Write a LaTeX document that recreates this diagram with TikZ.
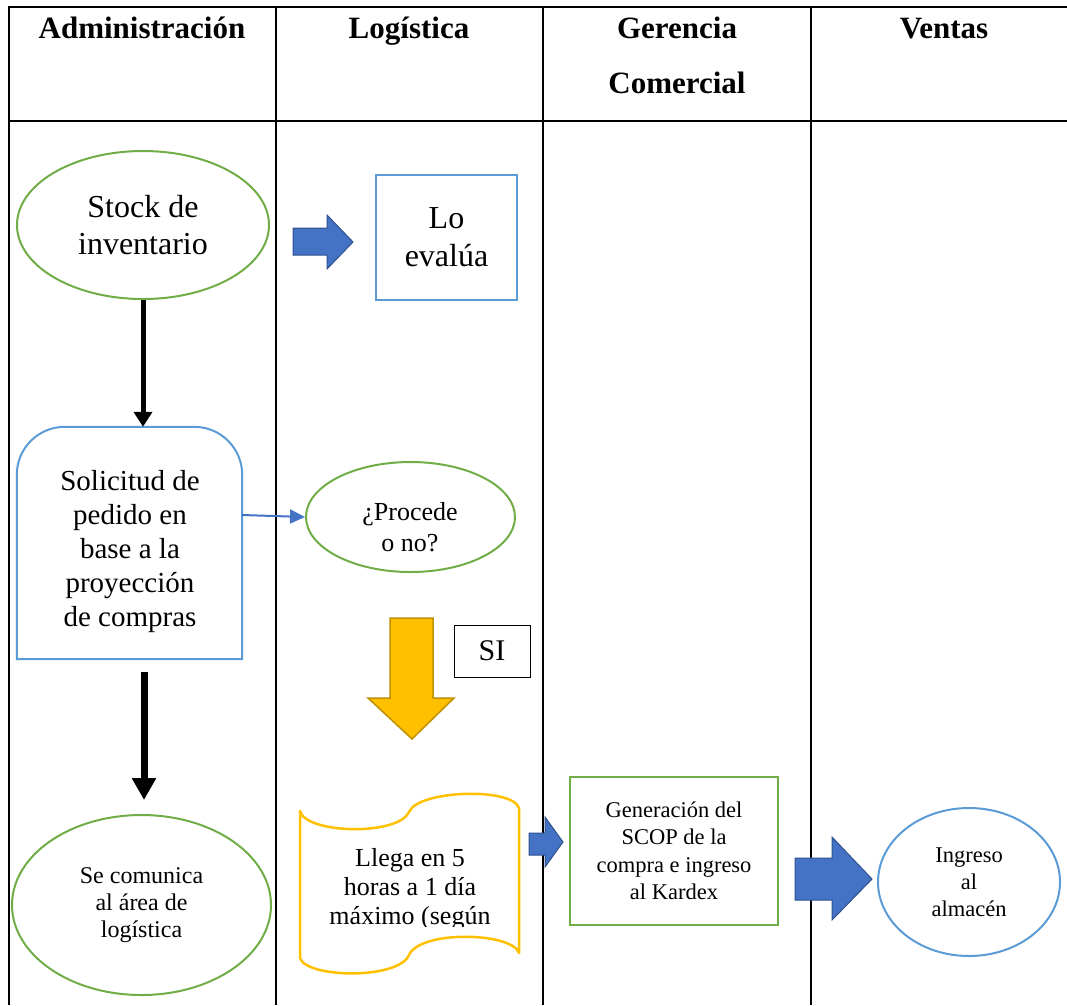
\documentclass[tikz,border=0pt]{standalone}
\usepackage{fontspec}
\setmainfont{Liberation Serif}
\usetikzlibrary{shapes.geometric,arrows.meta}
\definecolor{greenc}{HTML}{70AD47}
\definecolor{bluec}{HTML}{5B9BD5}
\definecolor{blockfill}{HTML}{4472C4}
\definecolor{blockdraw}{HTML}{2F528F}
\definecolor{yellowfill}{HTML}{FFC000}
\definecolor{yellowdraw}{HTML}{BF9000}
\begin{document}
\begin{tikzpicture}[x=1pt,y=-1pt,
  lane/.style={line width=2pt,black},
  hdr/.style={font=\fontsize{31}{37}\selectfont\bfseries, inner sep=0pt, anchor=base},
  gell/.style={ellipse, draw=greenc, line width=2pt, inner sep=0pt, align=center},
  bell/.style={ellipse, draw=bluec, line width=2pt, inner sep=0pt, align=center},
  bbox/.style={rectangle, draw=bluec, line width=2pt, inner sep=0pt, align=center},
  gbox/.style={rectangle, draw=greenc, line width=2pt, inner sep=0pt, align=center},
  txt/.style={inner sep=0pt, align=center},
  blockarrow/.style={fill=blockfill, draw=blockdraw, line width=1pt, line join=miter},
  yarrow/.style={fill=yellowfill, draw=yellowdraw, line width=1.5pt, line join=miter},
  blk/.style={black, line width=#1},
]
\useasboundingbox (0,0) rectangle (1067,1005);

% table
\draw[lane] (8,7) -- (1067,7);
\draw[lane] (8,121) -- (1067,121);
\draw[lane] (9,6) -- (9,1005);
\draw[lane] (276,6) -- (276,1005);
\draw[lane] (543,6) -- (543,1005);
\draw[lane] (811,6) -- (811,1005);

% headers
\node[hdr] (h1) at (142,38) {Administración};
\node[hdr] (h2) at (409,38) {Logística};
\node[hdr] (h3a) at (677,38) {Gerencia};
\node[hdr] (h3b) at (677,93) {Comercial};
\node[hdr] (h4) at (944,38) {Ventas};

% Administración column
\node[gell, minimum width=252pt, minimum height=148pt,
      font=\fontsize{32}{37}\selectfont] (stock) at (143,225) {Stock de\\inventario};

\node[minimum width=225pt, minimum height=232pt, inner sep=0pt] (sol) at (129.5,543) {};
\draw[draw=bluec, line width=2pt] (sol.south west) [rounded corners=48pt] -- (sol.north west) -- (sol.north east) [sharp corners] -- (sol.south east) -- cycle;
\node[txt, font=\fontsize{29}{34}\selectfont] (soltxt) at (130,552) {Solicitud de\\pedido en\\base a la\\proyección\\de compras};

\node[gell, minimum width=259pt, minimum height=180pt,
      font=\fontsize{24}{27}\selectfont] (com) at (141.5,905) {Se comunica\\al área de\\logística};

\draw[blk=5pt, -{Triangle[width=18pt,length=15pt]}] (stock.south) -- (stock.south |- sol.north);
\coordinate (a2s) at (144,672);
\coordinate (a2e) at (144,800);
\draw[blk=7pt, -{Triangle[width=23pt,length=22pt]}] (a2s) -- (a2e);

% Logística column
\draw[blockarrow] (293,228) -- (327,228) -- (327,215) -- (353,242) -- (327,269) -- (327,255) -- (293,255) -- cycle;
\node[bbox, minimum width=141pt, minimum height=125pt,
      font=\fontsize{32}{38}\selectfont] (eval) at (446.5,237.5) {Lo\\evalúa};

\node[gell, minimum width=209pt, minimum height=110pt] (proc) at (410.5,517) {};
\node[txt, font=\fontsize{26}{31}\selectfont] (proctxt) at (410,527) {¿Procede\\o no?};
\draw[draw=blockfill, line width=2pt, -{Triangle[width=14pt,length=15pt]}] ([yshift=28pt]sol.east) -- (proc.west);

\draw[yarrow] (390,618) -- (433,618) -- (433,698) -- (454,698) -- (412,739) -- (368,698) -- (390,698) -- cycle;
\node[rectangle, draw=black, line width=1pt, minimum width=76pt, minimum height=52pt,
      inner sep=0pt, font=\fontsize{30}{34}\selectfont] (si) at (492,651) {SI};

\coordinate (tape) at (410,884);
\draw[draw=yellowfill, line width=2.5pt, line join=round]
  (300,811) .. controls (306,834) and (398,836) .. (409,812)
  .. controls (418,790) and (512,787) .. (519,808)
  -- (519,953)
  .. controls (512,932) and (420,930) .. (409,955)
  .. controls (398,980) and (306,978) .. (300,958) -- cycle;
\begin{scope}
  \clip (300,825) rectangle (519,926);
  \node[txt, font=\fontsize{26}{29}\selectfont] (tapetxt) at (410,889) {Llega en 5\\horas a 1 día\\máximo (según};
\end{scope}

\draw[blockarrow] (529,833) -- (545,833) -- (545,817) -- (563,842) -- (545,867) -- (545,855) -- (529,855) -- cycle;

% Gerencia Comercial column
\node[gbox, minimum width=208pt, minimum height=148pt,
      font=\fontsize{22.5}{27.5}\selectfont] (gen) at (674,851) {Generación del\\SCOP de la\\compra e ingreso\\al Kardex};

% Ventas column
\draw[blockarrow] (795,858) -- (832,858) -- (832,837) -- (872,879) -- (832,920) -- (832,900) -- (795,900) -- cycle;
\node[bell, minimum width=182pt, minimum height=148pt,
      font=\fontsize{22.5}{27}\selectfont] (ing) at (969,882) {Ingreso\\al\\almacén};
\end{tikzpicture}
\end{document}
